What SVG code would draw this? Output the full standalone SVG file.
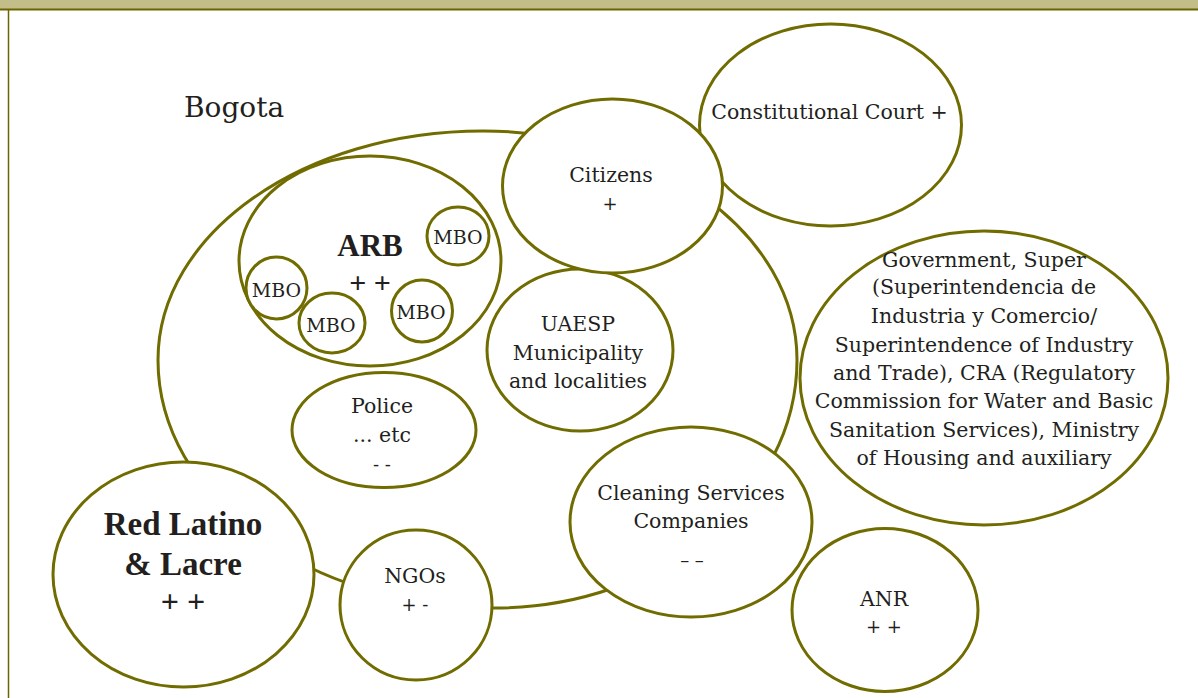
<svg xmlns="http://www.w3.org/2000/svg" width="1198" height="698" viewBox="0 0 1198 698">
  <style>
    .node { fill: #ffffff; stroke: #716c00; stroke-width: 3; }
    .outline { fill: none; stroke: #716c00; stroke-width: 3; }
    .t { font-family: "DejaVu Serif", "Liberation Serif", serif; font-size: 20.5px; fill: #231f20; text-anchor: middle; }
    .s { font-family: "DejaVu Serif", "Liberation Serif", serif; font-size: 18px; fill: #231f20; text-anchor: middle; }
    .mbo { font-family: "DejaVu Serif", "Liberation Serif", serif; font-size: 19px; fill: #231f20; text-anchor: middle; }
    .b { font-family: "Liberation Serif", "DejaVu Serif", serif; font-weight: bold; fill: #231f20; text-anchor: middle; }
  </style>
  <rect x="0" y="0" width="1198" height="698" fill="#ffffff"/>
  <g id="frame">
    <rect x="0" y="0" width="1198" height="9" fill="#c3bd89"/>
    <line x1="0" y1="9.5" x2="1198" y2="9.5" stroke="#6b6400" stroke-width="2"/>
    <line x1="8.5" y1="10" x2="8.5" y2="698" stroke="#6b6400" stroke-width="1.5"/>
  </g>
  <g id="bogota">
    <path class="outline" d="M 158 360 C 158 233.5 303.5 131 483 131 C 656.4 131 797 233.5 797 360 C 797 497 661.3 608 494 608 C 308.4 608 158 497 158 360 Z"/>
    <text x="184" y="117" style="font-family:'DejaVu Serif','Liberation Serif',serif;font-size:28px;fill:#231f20">Bogota</text>
  </g>
  <g id="connectors"></g>
  <g id="arb">
    <ellipse class="node" cx="370" cy="261" rx="131" ry="105"/>
    <text class="b" x="370" y="256" font-size="31">ARB</text>
    <text class="b" x="370" y="293" font-size="30">+ +</text>
  </g>
  <g id="mbo-1">
    <ellipse class="node" cx="458" cy="236" rx="31" ry="29"/>
    <text class="mbo" x="458" y="244">MBO</text>
  </g>
  <g id="mbo-2">
    <ellipse class="node" cx="276.5" cy="288" rx="30.5" ry="31"/>
    <text class="mbo" x="276.5" y="297">MBO</text>
  </g>
  <g id="mbo-3">
    <ellipse class="node" cx="332" cy="323" rx="33" ry="30"/>
    <text class="mbo" x="331" y="332">MBO</text>
  </g>
  <g id="mbo-4">
    <ellipse class="node" cx="422" cy="311" rx="30.5" ry="31"/>
    <text class="mbo" x="421" y="319">MBO</text>
  </g>
  <g id="police">
    <ellipse class="node" cx="384" cy="430" rx="92" ry="57.5"/>
    <text class="t" x="382" y="413">Police</text>
    <text class="t" x="382" y="442">... etc</text>
    <text class="s" x="382" y="471">- -</text>
  </g>
  <g id="uaesp">
    <ellipse class="node" cx="580" cy="350" rx="93" ry="81"/>
    <text class="t" x="578" y="331">UAESP</text>
    <text class="t" x="578" y="360">Municipality</text>
    <text class="t" x="578" y="388">and localities</text>
  </g>
  <g id="constitutional-court">
    <ellipse class="node" cx="830.5" cy="125" rx="131" ry="101"/>
    <text class="t" x="829.5" y="119" font-size="20">Constitutional Court +</text>
  </g>
  <g id="citizens">
    <ellipse class="node" cx="612.5" cy="186" rx="110" ry="87"/>
    <text class="t" x="611" y="182">Citizens</text>
    <text class="s" x="610" y="210">+</text>
  </g>
  <g id="government">
    <ellipse class="node" cx="984" cy="378" rx="184" ry="147"/>
    <text class="t" x="984" y="267">Government, Super</text>
    <text class="t" x="984" y="294">(Superintendencia de</text>
    <text class="t" x="984" y="323">Industria y Comercio/</text>
    <text class="t" x="984" y="352">Superintendence of Industry</text>
    <text class="t" x="984" y="380">and Trade), CRA (Regulatory</text>
    <text class="t" x="984" y="408">Commission for Water and Basic</text>
    <text class="t" x="984" y="437">Sanitation Services), Ministry</text>
    <text class="t" x="984" y="465">of Housing and auxiliary</text>
  </g>
  <g id="cleaning-services">
    <ellipse class="node" cx="691" cy="522" rx="121" ry="95"/>
    <text class="t" x="691" y="500">Cleaning Services</text>
    <text class="t" x="691" y="528">Companies</text>
    <text class="s" x="692" y="567" font-size="22">– –</text>
  </g>
  <g id="anr">
    <ellipse class="node" cx="885" cy="610" rx="93" ry="81.5"/>
    <text class="t" x="884" y="606">ANR</text>
    <text class="s" x="884" y="633">+ +</text>
  </g>
  <g id="red-latino">
    <ellipse class="node" cx="183.5" cy="574.5" rx="130.5" ry="112.5"/>
    <text class="b" x="183" y="535" font-size="33">Red Latino</text>
    <text class="b" x="183" y="575" font-size="33">&amp; Lacre</text>
    <text class="b" x="183" y="612" font-size="32">+ +</text>
  </g>
  <g id="ngos">
    <ellipse class="node" cx="416" cy="605" rx="76" ry="75"/>
    <text class="t" x="415" y="583">NGOs</text>
    <text class="s" x="415" y="611">+ -</text>
  </g>
</svg>
